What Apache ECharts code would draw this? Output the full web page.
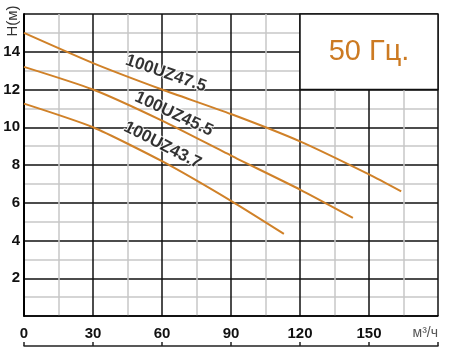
<!DOCTYPE html>
<html>
<head>
<meta charset="utf-8">
<script src="https://cdn.jsdelivr.net/npm/echarts@6/dist/echarts.min.js"></script>
<style>
  html, body { margin: 0; padding: 0; background: #fff; }
  #chart { width: 450px; height: 354px; }
</style>
</head>
<body>
<div id="chart"></div>
<script>
// pump curves, Q (m3/h) vs H (m)
const q475 = [0, 30, 60, 90, 120, 150, 164]
const h475 = [15.0, 13.4, 12.0, 10.7, 9.25, 7.5, 6.6]
const q455 = [0, 30, 60, 90, 120, 143]
const h455 = [13.2, 12.0, 10.35, 8.5, 6.7, 5.2]
const q437 = [0, 30, 60, 90, 113]
const h437 = [11.25, 10.0, 8.2, 6.1, 4.35]

const curveNames = ['100UZ47.5', '100UZ45.5', '100UZ43.7']
// where the curve names sit (data coords) and their tilt
const labelQ = [61.7, 65.2, 60.2]
const labelH = [12.85, 10.7, 9.05]
const labelAngle = [-19, -25, -27]

const freqText = '50 Гц.'
const xUnit = 'м³/ч'
const yName = 'H(м)'

const orange = '#d08128'
const font = '"Liberation Sans", Arial, sans-serif'

const pairs = (xs, ys) => xs.map((x, i) => [x, ys[i]])

const chart = echarts.init(document.getElementById('chart'))

const lineSeries = (name, data) => ({
  name,
  type: 'line',
  data,
  smooth: 0.2,
  symbol: 'none',
  lineStyle: { color: orange, width: 2 },
  z: 3
})

const option = {
  animation: false,
  grid: { left: 24, right: 12, top: 14, bottom: 38 },
  xAxis: [
    {
      type: 'value',
      min: 0,
      max: 180,
      interval: 30,
      axisLine: { show: true, onZero: false, lineStyle: { color: '#000', width: 1.5 } },
      axisTick: { show: false },
      axisLabel: {
        margin: 10,
        fontFamily: font,
        fontSize: 15,
        fontWeight: 'bold',
        color: '#111',
        alignMaxLabel: 'right',
        formatter: v => (v === 180 ? '{u|' + xUnit + '}' : String(v)),
        rich: {
          u: { fontFamily: font, fontSize: 14, fontWeight: 'normal', color: '#555' }
        }
      },
      splitLine: { show: true, lineStyle: { color: '#111', width: 1.5 } },
      minorTick: { show: false, splitNumber: 2 },
      minorSplitLine: { show: true, lineStyle: { color: '#c8c8c8', width: 1.5 } }
    },
    {
      // separate scale line under the numbers
      type: 'value',
      min: 0,
      max: 180,
      interval: 30,
      position: 'bottom',
      offset: 30,
      axisLine: { show: true, onZero: false, lineStyle: { color: '#222', width: 1.5 } },
      axisTick: { show: true, inside: true, length: 4, lineStyle: { color: '#222', width: 1.5 } },
      axisLabel: { show: false },
      splitLine: { show: false }
    }
  ],
  yAxis: {
    type: 'value',
    min: 0,
    max: 16,
    interval: 2,
    axisLine: { show: true, onZero: false, lineStyle: { color: '#000', width: 2 } },
    axisTick: { show: false },
    axisLabel: {
      margin: 4,
      fontFamily: font,
      fontSize: 15,
      fontWeight: 'bold',
      color: '#111',
      formatter: v => (v === 0 || v === 16 ? '' : String(v))
    },
    splitLine: { show: true, lineStyle: { color: '#111', width: 1.5 } },
    minorTick: { show: false, splitNumber: 2 },
    minorSplitLine: { show: true, lineStyle: { color: '#c8c8c8', width: 1.5 } }
  },
  graphic: [
    {
      type: 'text',
      x: 13,
      y: 21,
      rotation: Math.PI / 2,
      style: {
        text: yName,
        fontFamily: font,
        fontSize: 15,
        fill: '#333',
        align: 'center',
        verticalAlign: 'middle'
      }
    }
  ],
  series: [
    lineSeries(curveNames[0], pairs(q475, h475)),
    lineSeries(curveNames[1], pairs(q455, h455)),
    lineSeries(curveNames[2], pairs(q437, h437)),
    {
      // frequency box in the top right corner
      type: 'line',
      data: [],
      markArea: {
        silent: true,
        itemStyle: { color: '#fff', borderColor: '#111', borderWidth: 1.5 },
        label: {
          show: true,
          position: 'inside',
          formatter: freqText,
          fontFamily: font,
          fontSize: 29,
          color: '#cc7a22'
        },
        data: [[{ coord: [120, 12] }, { coord: [180, 16] }]]
      },
      z: 2
    },
    {
      type: 'scatter',
      symbolSize: 0,
      data: curveNames.map((n, i) => ({
        value: [labelQ[i], labelH[i]],
        name: n,
        label: { rotate: labelAngle[i] }
      })),
      label: {
        show: true,
        position: 'inside',
        formatter: p => p.name,
        fontFamily: font,
        fontSize: 17,
        fontWeight: 'bold',
        color: '#000',
        textBorderColor: '#fff',
        textBorderWidth: 2
      },
      z: 5
    }
  ]
}

chart.setOption(option)
</script>
</body>
</html>
